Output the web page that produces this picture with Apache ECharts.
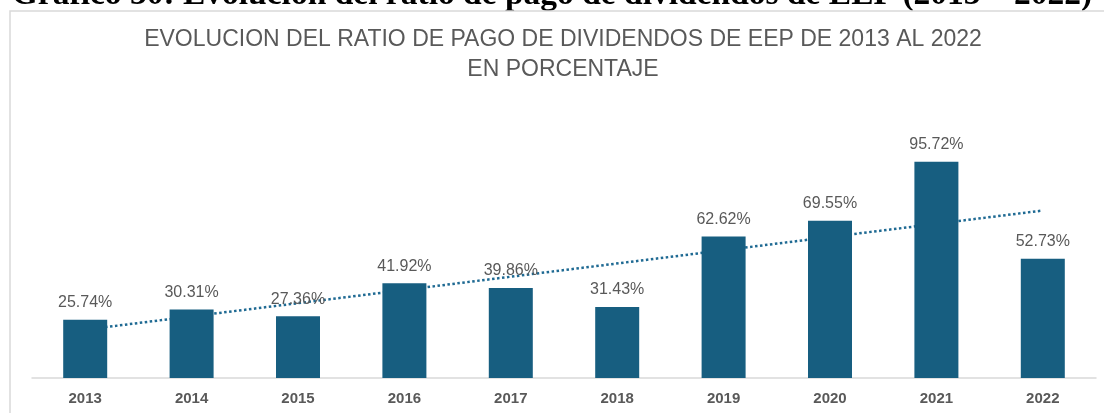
<!DOCTYPE html>
<html>
<head>
<meta charset="utf-8">
<script src="https://cdn.jsdelivr.net/npm/echarts@6/dist/echarts.min.js"></script>
<style>
html, body { margin: 0; padding: 0; background: #fff; }
#chart { width: 1104px; height: 413px; }
</style>
</head>
<body>
<div id="chart"></div>
<script>
// años
const years = ['2013', '2014', '2015', '2016', '2017', '2018', '2019', '2020', '2021', '2022'];
// ratio de pago de dividendos (%)
const ratios = [25.74, 30.31, 27.36, 41.92, 39.86, 31.43, 62.62, 69.55, 95.72, 52.73];
const trendEnds = [21.4, 74.1];

const heading = 'Gráfico 30: Evolución del ratio de pago de dividendos de EEP (2013 – 2022)';
const titleLines = ['EVOLUCION DEL RATIO DE PAGO DE DIVIDENDOS DE EEP DE 2013 AL 2022', 'EN PORCENTAJE'];

const trendData = years.map((y, i) => {
    if (i === 0) return trendEnds[0];
    if (i === years.length - 1) return trendEnds[1];
    return null;
});

const chart = echarts.init(document.getElementById('chart'));

chart.setOption({
    animation: false,
    grid: {
        left: 32,
        right: 8,
        top: 152,
        bottom: 35
    },
    graphic: [
        // encabezado del documento, tapado en parte por el recuadro
        {
            type: 'text',
            x: 552,
            y: -5,
            style: {
                text: heading,
                fill: '#000',
                font: 'bold 33.5px "Liberation Serif", "Times New Roman", serif',
                align: 'center',
                verticalAlign: 'middle'
            }
        },
        {
            type: 'rect',
            shape: { x: 10, y: 11, width: 1200, height: 500 },
            style: { fill: '#fff', stroke: '#d9d9d9', lineWidth: 1.5 },
            silent: true
        },
        {
            type: 'text',
            x: 563,
            y: 25,
            style: {
                text: titleLines.join('\n'),
                fill: '#595959',
                font: '23px "Liberation Sans", Arial, sans-serif',
                lineHeight: 30,
                align: 'center',
                verticalAlign: 'top'
            }
        }
    ],
    xAxis: {
        type: 'category',
        data: years,
        axisLine: { lineStyle: { color: '#d9d9d9', width: 1.5 } },
        axisTick: { show: false },
        axisLabel: {
            color: '#595959',
            fontFamily: '"Liberation Sans", Arial, sans-serif',
            fontWeight: 'bold',
            fontSize: 15,
            margin: 13
        }
    },
    yAxis: {
        type: 'value',
        min: 0,
        max: 100,
        show: false,
        splitLine: { show: false }
    },
    series: [
        {
            name: 'tendencia',
            type: 'line',
            data: trendData,
            connectNulls: true,
            symbol: 'none',
            z: 1,
            lineStyle: {
                color: '#1f6a93',
                width: 2.5,
                type: [2.5, 2.5]
            }
        },
        {
            name: 'ratio',
            type: 'bar',
            data: ratios,
            barWidth: 44,
            z: 2,
            itemStyle: { color: '#175e80' },
            label: {
                show: true,
                position: 'top',
                distance: 9,
                color: '#595959',
                fontSize: 16,
                fontFamily: '"Liberation Sans", Arial, sans-serif',
                formatter: p => p.value.toFixed(2) + '%'
            }
        }
    ]
});
</script>
</body>
</html>
